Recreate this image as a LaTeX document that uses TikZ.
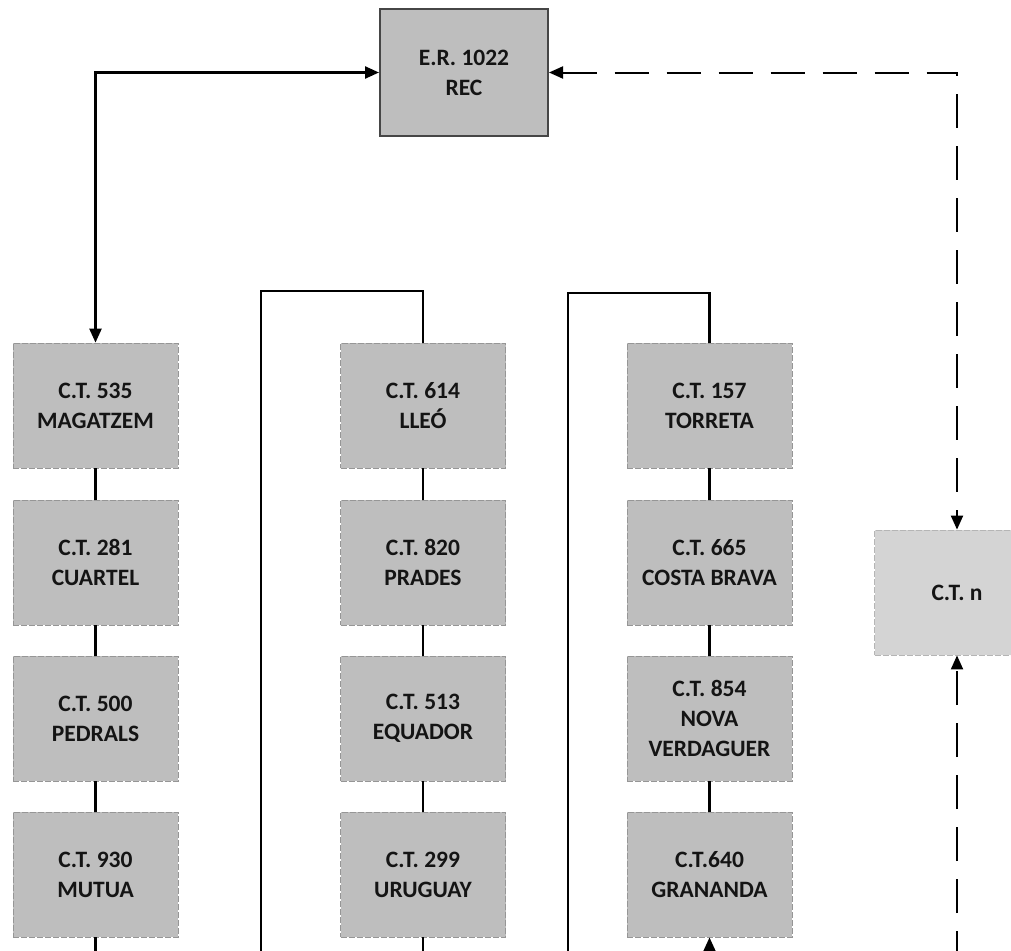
\documentclass[tikz,border=0pt]{standalone}
\usepackage{fontspec}
\setmainfont{Carlito}
\usetikzlibrary{arrows.meta}
\definecolor{boxfill}{RGB}{190,190,190}
\definecolor{boxfilllight}{RGB}{212,212,212}
\definecolor{boxedge}{RGB}{150,150,150}
\definecolor{txt}{RGB}{20,20,20}
\tikzset{
  ctbox/.style={draw=boxedge, line width=0.8pt, dash pattern=on 6pt off 2pt,
    fill=boxfill, minimum width=165pt, minimum height=125pt, inner sep=0pt,
    align=center, text=txt, font=\bfseries\fontsize{23.5}{30}\selectfont},
  erbox/.style={ctbox, solid, draw=gray!55!black, line width=2pt, minimum width=168pt, minimum height=127pt},
  nbox/.style={ctbox, fill=boxfilllight, draw=boxedge!70},
  conn/.style={draw=black, line width=2.4pt},
  dashconn/.style={draw=black, line width=2pt, dash pattern=on 34pt off 18pt},
  tip/.style={-{Triangle[length=14pt,width=12pt]}},
  tips/.style={{Triangle[length=14pt,width=12pt]}-{Triangle[length=14pt,width=12pt]}}
}
\begin{document}
\begin{tikzpicture}[x=1pt,y=-1pt]
\useasboundingbox (0,0) rectangle (1011,950);
\fill[white] (0,0) rectangle (1011,950);
\clip (0,0) rectangle (1011,950);

% boxes
\node[erbox] (er) at (464,72.5) {E.R. 1022\\REC};

\node[ctbox] (m535) at (95.5,405.5) {C.T. 535\\MAGATZEM};
\node[ctbox] (c281) at (95.5,562.5) {C.T. 281\\CUARTEL};
\node[ctbox] (p500) at (95.5,718.5) {C.T. 500\\PEDRALS};
\node[ctbox] (m930) at (95.5,874.5) {C.T. 930\\MUTUA};

\node[ctbox] (l614) at (423,405.5) {C.T. 614\\LLEÓ};
\node[ctbox] (p820) at (423,562.5) {C.T. 820\\PRADES};
\node[ctbox] (e513) at (423,718.5) {C.T. 513\\EQUADOR};
\node[ctbox] (u299) at (423,874.5) {C.T. 299\\URUGUAY};

\node[ctbox] (t157) at (709.5,405.5) {C.T. 157\\TORRETA};
\node[ctbox] (c665) at (709.5,562.5) {C.T. 665\\COSTA BRAVA};
\node[ctbox] (n854) at (709.5,718.5) {C.T. 854\\NOVA\\VERDAGUER};
\node[ctbox] (g640) at (709.5,874.5) {C.T.640\\GRANANDA};

\node[nbox] (ctn) at (957,592.5) {C.T. n};

% coordinates for loose ends
\coordinate (loopAtop) at (261,291);
\coordinate (loopAbot) at (261,951.8);
\coordinate (loopBtop) at (568,293);
\coordinate (loopBbot) at (568,951.8);
\coordinate (granin) at (709.5,965);
\coordinate (ctnin) at (957,965);

% connectors
\draw[conn,tips] (m535.north) |- (er.west);
\draw[dashconn,tips] (er.east) -| (ctn.north);
\draw[dashconn,tip] (ctnin) -- (ctn.south);

\draw[conn] (m535) -- (c281);
\draw[conn] (c281) -- (p500);
\draw[conn] (p500) -- (m930);
\draw[conn] (l614) -- (p820);
\draw[conn] (p820) -- (e513);
\draw[conn] (e513) -- (u299);
\draw[conn] (t157) -- (c665);
\draw[conn] (c665) -- (n854);
\draw[conn] (n854) -- (g640);

\draw[conn] (l614.north) |- (loopAtop) -- (loopAbot);
\draw[conn] (m930.south) |- (loopAbot);
\draw[conn] (t157.north) |- (loopBtop) -- (loopBbot);
\draw[conn] (u299.south) |- (loopBbot);
\draw[conn,tip] (granin) -- (g640.south);
\end{tikzpicture}
\end{document}
